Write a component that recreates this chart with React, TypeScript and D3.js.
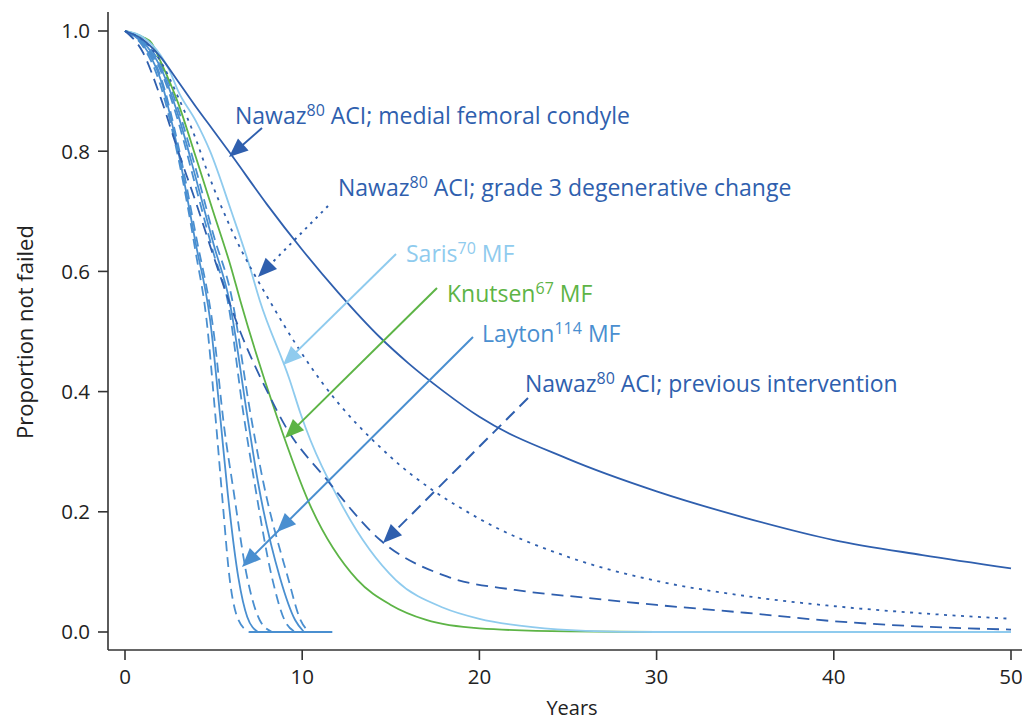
import React from "react";
import * as d3 from "d3";

type P = [number, number];

const xTicks = [0, 10, 20, 30, 40, 50];
const yTicks = [0, 0.2, 0.4, 0.6, 0.8, 1.0];

const nawazMFC: P[] = [[0,1],[1,0.986],[2,0.957],[3,0.916],[4,0.874],[5,0.834],[6,0.794],[8,0.712],[10,0.636],[12,0.566],[14.4,0.49],[16,0.447],[18,0.4],[20,0.358],[25,0.288],[30,0.234],[35,0.19],[40,0.153],[45,0.128],[50,0.106]];
const nawazGrade3: P[] = [[0,1],[1,0.985],[2,0.95],[3,0.89],[4,0.82],[4.6,0.77],[6,0.67],[8.3,0.544],[11.1,0.416],[15,0.291],[19.9,0.19],[25,0.125],[30,0.085],[35,0.06],[40,0.043],[45,0.031],[50,0.022]];
const nawazPrev: P[] = [[0,1],[1,0.965],[2,0.89],[3,0.8],[4,0.715],[5,0.625],[6.5,0.5],[8.2,0.39],[9,0.345],[11.4,0.253],[14.4,0.153],[18.2,0.092],[22,0.07],[26,0.057],[30,0.045],[35,0.032],[40,0.018],[45,0.009],[50,0.004]];
const saris: P[] = [[0,1],[1,0.99],[2,0.96],[2.5,0.935],[3,0.9],[4,0.85],[4.8,0.8],[6,0.7],[7.05,0.607],[7.6,0.552],[9.3,0.419],[9.9,0.364],[12.3,0.208],[15.3,0.086],[18,0.04],[20,0.022],[23,0.008],[26,0.002],[30,0],[50,0]];
const knutsen: P[] = [[0,1],[1,0.99],[1.5,0.98],[2,0.95],[3,0.88],[4,0.79],[4.97,0.7],[6,0.605],[6.5,0.552],[8.6,0.356],[10.4,0.214],[13.1,0.087],[15,0.045],[17,0.02],[20,0.006],[25,0.001],[30,0],[50,0]];

const laytonL1: P[] = [[0,1],[1,0.975],[2,0.91],[3,0.79],[4,0.63],[4.6,0.52],[5.1,0.36],[5.5,0.22],[5.9,0.09],[6.4,0.02],[7.0,0]];
const laytonL2: P[] = [[0,1],[1,0.978],[2,0.92],[3,0.8],[4,0.645],[4.8,0.52],[5.4,0.35],[5.8,0.23],[6.4,0.09],[6.9,0.025],[7.5,0]];
const laytonL3: P[] = [[0,1],[1,0.98],[2,0.925],[3,0.81],[4,0.66],[5,0.5],[5.6,0.34],[6.1,0.24],[6.9,0.09],[7.6,0.02],[8.3,0]];
const laytonR1: P[] = [[0,1],[1,0.98],[2,0.935],[3,0.85],[4,0.74],[5,0.63],[5.8,0.55],[6.7,0.36],[7.3,0.25],[8.3,0.09],[9.0,0.02],[9.6,0]];
const laytonR2: P[] = [[0,1],[1,0.982],[2,0.94],[3,0.86],[4,0.755],[5,0.645],[5.9,0.55],[6.9,0.36],[7.5,0.25],[8.75,0.09],[9.6,0.02],[10.1,0]];
const laytonR3: P[] = [[0,1],[1,0.984],[2,0.945],[3,0.87],[4,0.77],[5,0.66],[6,0.56],[7.1,0.36],[7.8,0.25],[9.2,0.09],[9.9,0.02],[10.4,0]];
const laytonBase: P[] = [[7,0],[11.7,0]];

const DARK = "#2f5fae";
const LIGHT = "#8fcbee";
const GREEN = "#5db446";
const LAYTON = "#4a8fd0";
const FONT = "'Open Sans', 'Noto Sans', sans-serif";

const W = 1022, H = 720;
const x = d3.scaleLinear().domain([0, 50]).range([125, 1011]);
const y = d3.scaleLinear().domain([0, 1]).range([632, 31]);
const line = d3.line<P>().x(d => x(d[0])).y(d => y(d[1])).curve(d3.curveMonotoneX);

const series = [
  { d: laytonL1, c: LAYTON, dash: "10,6" },
  { d: laytonL2, c: LAYTON, dash: "" },
  { d: laytonL3, c: LAYTON, dash: "10,6" },
  { d: laytonR1, c: LAYTON, dash: "10,6" },
  { d: laytonR2, c: LAYTON, dash: "" },
  { d: laytonR3, c: LAYTON, dash: "10,6" },
  { d: laytonBase, c: LAYTON, dash: "" },
  { d: knutsen, c: GREEN, dash: "" },
  { d: saris, c: LIGHT, dash: "" },
  { d: nawazPrev, c: DARK, dash: "12,7" },
  { d: nawazGrade3, c: DARK, dash: "3,5.5" },
  { d: nawazMFC, c: DARK, dash: "" },
];

function Arrow({ x1, y1, x2, y2, c, dash, extra }: { x1: number; y1: number; x2: number; y2: number; c: string; dash?: string; extra?: [number, number][] }) {
  const heads: [number, number][] = [[x2, y2], ...(extra || [])];
  const ang = Math.atan2(y2 - y1, x2 - x1);
  const L = 19, Wd = 8;
  return (
    <g>
      <line x1={x1} y1={y1} x2={x2 - Math.cos(ang) * 8} y2={y2 - Math.sin(ang) * 8} stroke={c} strokeWidth={2} strokeDasharray={dash || undefined} />
      {heads.map(([hx, hy], i) => {
        const bx = hx - Math.cos(ang) * L, by = hy - Math.sin(ang) * L;
        const px = -Math.sin(ang) * Wd, py = Math.cos(ang) * Wd;
        return <path key={i} d={`M${hx},${hy}L${bx + px},${by + py}L${bx - px},${by - py}Z`} fill={c} />;
      })}
    </g>
  );
}

function Label({ x0, yb, pre, sup, post, c }: { x0: number; yb: number; pre: string; sup: string; post: string; c: string }) {
  return (
    <text x={x0} y={yb} fill={c} fontFamily={FONT} fontSize={23}>
      {pre}
      <tspan fontSize={16} dy={-8}>{sup}</tspan>
      <tspan dy={8}>{post}</tspan>
    </text>
  );
}

export default function App() {
  return (
    <svg width={W} height={H} style={{ position: "absolute", left: 0, top: 0, background: "#fff" }}>
      {series.map((s, i) => (
        <path key={i} d={line(s.d) || ""} fill="none" stroke={s.c} strokeWidth={1.8} strokeDasharray={s.dash || undefined} />
      ))}
      {/* axes */}
      <line x1={108} y1={12} x2={108} y2={650} stroke="#333" strokeWidth={1.6} />
      <line x1={108} y1={650} x2={1022} y2={650} stroke="#333" strokeWidth={1.6} />
      {yTicks.map(t => (
        <g key={"y" + t}>
          <line x1={98} x2={108} y1={y(t)} y2={y(t)} stroke="#333" strokeWidth={1.6} />
          <text x={90} y={y(t)} dy="0.36em" textAnchor="end" fontFamily={FONT} fontSize={20.5} fill="#222">{t.toFixed(1)}</text>
        </g>
      ))}
      {xTicks.map(t => (
        <g key={"x" + t}>
          <line x1={x(t)} x2={x(t)} y1={650} y2={660} stroke="#333" strokeWidth={1.6} />
          <text x={x(t)} y={684} textAnchor="middle" fontFamily={FONT} fontSize={20.5} fill="#222">{t}</text>
        </g>
      ))}
      <text x={572} y={715} textAnchor="middle" fontFamily={FONT} fontSize={20} fill="#222">Years</text>
      <text transform="translate(33,332) rotate(-90)" textAnchor="middle" fontFamily={FONT} fontSize={22} fill="#222">Proportion not failed</text>

      {/* annotations */}
      <Label x0={235} yb={124} pre="Nawaz" sup="80" post=" ACI; medial femoral condyle" c={DARK} />
      <Arrow x1={262} y1={128} x2={229} y2={157} c={DARK} />
      <Label x0={338} yb={196} pre="Nawaz" sup="80" post=" ACI; grade 3 degenerative change" c={DARK} />
      <Arrow x1={328} y1={206} x2={258} y2={277} c={DARK} dash="2.5,5" />
      <Label x0={406} yb={262} pre="Saris" sup="70" post=" MF" c={LIGHT} />
      <Arrow x1={396} y1={254} x2={283} y2={365} c={LIGHT} />
      <Label x0={447} yb={302} pre="Knutsen" sup="67" post=" MF" c={GREEN} />
      <Arrow x1={437} y1={288} x2={285} y2={438} c={GREEN} />
      <Label x0={482} yb={342} pre="Layton" sup="114" post=" MF" c={LAYTON} />
      <Arrow x1={473} y1={337} x2={242} y2={567} c={LAYTON} extra={[[277, 532]]} />
      <Label x0={525} yb={392} pre="Nawaz" sup="80" post=" ACI; previous intervention" c={DARK} />
      <Arrow x1={528} y1={398} x2={383} y2={543} c={DARK} dash="12,7" />
    </svg>
  );
}
